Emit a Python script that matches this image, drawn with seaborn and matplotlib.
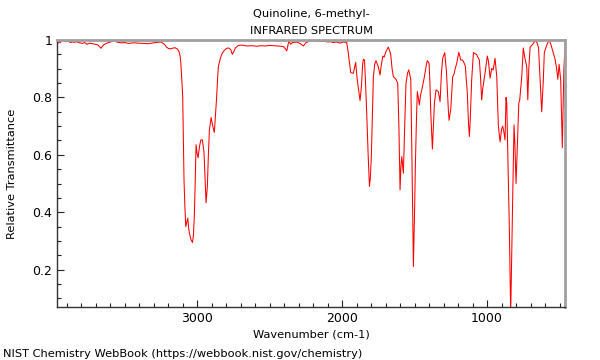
import numpy as np
import pandas as pd
import seaborn as sns
import matplotlib
matplotlib.use("Agg")
import matplotlib.pyplot as plt
from matplotlib.ticker import MultipleLocator, FormatStrFormatter

TITLE = "Quinoline, 6-methyl-\nINFRARED SPECTRUM"
X_LABEL = "Wavenumber (cm-1)"
Y_LABEL = "Relative Transmittance"
FOOTER = "NIST Chemistry WebBook (https://webbook.nist.gov/chemistry)"

# spectrum (wavenumber, transmittance)
wavenumber = [
    3962, 3955, 3945, 3935, 3920, 3905, 3890, 3875, 3860, 3845, 3830, 3810,
    3790, 3775, 3760, 3740, 3720, 3703, 3685, 3670, 3662, 3650, 3635, 3611,
    3590, 3570, 3550, 3520, 3500, 3473, 3440, 3400, 3370, 3336, 3300, 3270,
    3248, 3225, 3210, 3197, 3180, 3165, 3152, 3135, 3125, 3117, 3112, 3105,
    3099, 3094, 3090, 3084, 3078, 3071, 3064, 3058, 3053, 3042, 3032, 3025,
    3019, 3013, 3007, 3000, 2993, 2983, 2974, 2963, 2952, 2945, 2938, 2929,
    2922, 2915, 2903, 2892, 2881, 2873, 2865, 2858, 2853, 2840, 2830, 2815,
    2796, 2780, 2766, 2757, 2748, 2735, 2715, 2690, 2656, 2620, 2590, 2560,
    2530, 2500, 2470, 2440, 2405, 2392, 2381, 2372, 2366, 2355, 2345, 2336,
    2315, 2290, 2267, 2250, 2230, 2209, 2185, 2150, 2120, 2095, 2083, 2060,
    2040, 2015, 1991, 1968, 1957, 1950, 1940, 1922, 1906, 1899, 1892, 1876,
    1866, 1858, 1853, 1845, 1838, 1830, 1820, 1811, 1805, 1798, 1790, 1784,
    1775, 1766, 1750, 1738, 1730, 1719, 1710, 1697, 1681, 1670, 1664, 1655,
    1646, 1628, 1616, 1608, 1600, 1594, 1588, 1577, 1568, 1559, 1548, 1540,
    1533, 1526, 1517, 1508, 1500, 1494, 1487, 1481, 1474, 1467, 1458, 1450,
    1441, 1432, 1420, 1412, 1400, 1394, 1388, 1377, 1370, 1363, 1352, 1336,
    1324, 1315, 1306, 1292, 1280, 1267, 1262, 1250, 1237, 1228, 1220, 1209,
    1195, 1181, 1170, 1163, 1150, 1136, 1128, 1122, 1116, 1106, 1094, 1080,
    1071, 1053, 1045, 1037, 1030, 1014, 998, 990, 979, 968, 958, 945,
    933, 922, 910, 900, 892, 884, 876, 869, 864, 855, 846, 837,
    830, 823, 814, 808, 800, 792, 781, 775, 761, 750, 740, 726,
    719, 712, 703, 685, 669, 655, 645, 634, 623, 612, 605, 590,
    572, 560, 547, 531, 520, 512, 503, 492, 481, 470, 461,
]
transmittance = [
    0.985, 0.996, 0.990, 0.997, 0.999, 0.994, 0.998, 0.991, 0.993, 0.992, 0.994, 0.990,
    0.988, 0.991, 0.985, 0.989, 0.987, 0.985, 0.983, 0.975, 0.971, 0.980, 0.986, 0.991,
    0.994, 0.998, 0.992, 0.990, 0.991, 0.988, 0.990, 0.989, 0.988, 0.987, 0.990, 0.992,
    0.993, 0.985, 0.975, 0.970, 0.969, 0.972, 0.973, 0.968, 0.960, 0.945, 0.920, 0.860,
    0.800, 0.650, 0.513, 0.420, 0.350, 0.365, 0.380, 0.345, 0.328, 0.305, 0.295, 0.320,
    0.385, 0.500, 0.635, 0.605, 0.590, 0.630, 0.652, 0.652, 0.607, 0.520, 0.433, 0.490,
    0.600, 0.687, 0.730, 0.700, 0.678, 0.740, 0.800, 0.870, 0.907, 0.935, 0.950, 0.962,
    0.971, 0.972, 0.965, 0.950, 0.958, 0.973, 0.981, 0.982, 0.979, 0.980, 0.978, 0.980,
    0.979, 0.981, 0.980, 0.979, 0.977, 0.970, 0.962, 0.985, 0.997, 0.985, 0.990, 0.991,
    0.993, 0.988, 0.979, 0.990, 0.995, 0.999, 0.997, 0.996, 0.995, 0.993, 0.994, 0.991,
    0.993, 0.989, 0.993, 0.991, 0.956, 0.925, 0.886, 0.884, 0.922, 0.880, 0.849, 0.789,
    0.840, 0.915, 0.933, 0.930, 0.850, 0.745, 0.600, 0.490, 0.520, 0.594, 0.760, 0.872,
    0.915, 0.928, 0.907, 0.878, 0.910, 0.944, 0.940, 0.960, 0.975, 0.960, 0.948, 0.900,
    0.872, 0.863, 0.849, 0.700, 0.478, 0.560, 0.594, 0.536, 0.700, 0.849, 0.885, 0.896,
    0.880, 0.861, 0.550, 0.211, 0.400, 0.571, 0.720, 0.820, 0.800, 0.774, 0.810, 0.826,
    0.850, 0.872, 0.910, 0.928, 0.919, 0.850, 0.745, 0.620, 0.700, 0.780, 0.826, 0.820,
    0.785, 0.880, 0.936, 0.956, 0.890, 0.757, 0.720, 0.760, 0.872, 0.880, 0.900, 0.919,
    0.957, 0.930, 0.930, 0.925, 0.910, 0.814, 0.710, 0.664, 0.720, 0.861, 0.956, 0.952,
    0.948, 0.930, 0.870, 0.791, 0.830, 0.884, 0.944, 0.925, 0.867, 0.901, 0.895, 0.936,
    0.872, 0.700, 0.645, 0.690, 0.700, 0.680, 0.652, 0.800, 0.780, 0.550, 0.339, 0.040,
    0.250, 0.455, 0.704, 0.640, 0.500, 0.620, 0.780, 0.790, 0.870, 0.972, 0.940, 0.905,
    0.792, 0.900, 0.975, 0.985, 0.997, 0.990, 0.973, 0.863, 0.750, 0.860, 0.956, 0.980,
    1.000, 0.985, 0.962, 0.933, 0.900, 0.863, 0.915, 0.860, 0.625, 0.900, 0.990,
]

X_MIN, X_MAX = 461, 3966
Y_MIN, Y_MAX = 0.07, 1.0


def main() -> None:
    sns.set_style("white")
    plt.rcParams["font.family"] = ["DejaVu Sans"]
    plt.rcParams["text.color"] = "black"
    plt.rcParams["axes.labelcolor"] = "black"

    data = pd.DataFrame({"wn": wavenumber, "t": transmittance})

    fig = plt.figure(figsize=(6, 3.6), dpi=100)
    ax = fig.add_axes([0.095, 0.147, 0.847, 0.742])

    sns.lineplot(data=data, x="wn", y="t", ax=ax, color="red",
                 linewidth=0.75, estimator=None, sort=False)

    ax.set_xlim(X_MAX, X_MIN)
    ax.set_ylim(Y_MIN, Y_MAX)

    ax.xaxis.set_major_locator(MultipleLocator(1000))
    ax.xaxis.set_minor_locator(MultipleLocator(100))
    ax.yaxis.set_major_locator(MultipleLocator(0.2))
    ax.yaxis.set_minor_locator(MultipleLocator(0.05))
    ax.yaxis.set_major_formatter(FormatStrFormatter("%g"))

    ax.tick_params(which="both", direction="in", top=False, right=False,
                   bottom=True, left=True, labelsize=9, colors="#222222",
                   labelcolor="black")
    ax.tick_params(which="major", length=5, width=0.8)
    ax.tick_params(which="minor", length=3, width=0.8)

    for side in ("top", "right"):
        ax.spines[side].set_color("#a0a0a0")
        ax.spines[side].set_linewidth(2)
    for side in ("left", "bottom"):
        ax.spines[side].set_color("#333333")
        ax.spines[side].set_linewidth(1)

    ax.set_xlabel(X_LABEL, fontsize=8.2, labelpad=3)
    ax.set_ylabel(Y_LABEL, fontsize=8.2, labelpad=11)
    ax.set_title(TITLE, fontsize=8.2, linespacing=1.9, pad=4)

    fig.text(0.005, 0.003, FOOTER, fontsize=8.2, ha="left", va="bottom")

    fig.savefig("out.png", dpi=100)
    plt.close(fig)


if __name__ == "__main__":
    main()
